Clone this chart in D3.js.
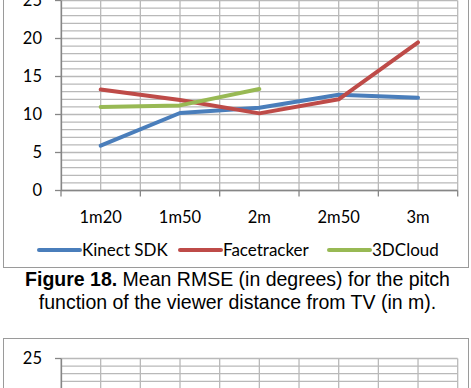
<!DOCTYPE html>
<html><head><meta charset="utf-8">
<script src="https://cdn.jsdelivr.net/npm/d3@7"></script>
<style>html,body{margin:0;padding:0;background:#fff;}svg{display:block;}</style>
</head><body>
<script>
const categories = ["1m20", "1m50", "2m", "2m50", "3m"];
const kinectSDK = [5.9, 10.2, 10.9, 12.6, 12.2];
const facetracker = [13.3, 11.9, 10.15, 12.0, 19.5];
const cloud3D = [11.0, 11.2, 13.35, null, null];
const seriesNames = ["Kinect SDK", "Facetracker", "3DCloud"];
const seriesColors = ["#4a7ebb", "#be4b48", "#98b954"];
const yTickLabels = [0, 5, 10, 15, 20, 25];
const yMinorGrid = d3.range(0, 26, 1);
const captionBold = "Figure 18.";
const captionRest = " Mean RMSE (in degrees) for the pitch";
const captionLine2 = "function of the viewer distance from TV (in m).";

const W = 471, H = 388;
const svg = d3.select("body").append("svg").attr("width", W).attr("height", H);
svg.append("rect").attr("width", W).attr("height", H).attr("fill", "#fff");

const tickFont = "Lato, 'Open Sans', sans-serif";
const gridColor = "#b9b9b9";
const axisColor = "#868686";
const PL = 61, PR = 457.7;

svg.append("rect").attr("x", 3.5).attr("y", -20).attr("width", 465).attr("height", 287.5)
  .attr("fill", "none").attr("stroke", "#9a9a9a");
svg.append("rect").attr("x", 3.5).attr("y", 338.5).attr("width", 465).attr("height", 100)
  .attr("fill", "none").attr("stroke", "#9a9a9a");

function drawChart(offsetY, drawSeries) {
  const g = svg.append("g");
  const x = d3.scaleBand().domain(categories).range([PL, PR]);
  const y = d3.scaleLinear().domain([0, 25]).range([190.5 + offsetY, 0.5 + offsetY]);
  const vpos = [];
  categories.forEach(c => { vpos.push(x(c)); vpos.push(x(c) + x.bandwidth() / 2); });
  vpos.push(PR);
  vpos.forEach(d => {
    g.append("line").attr("x1", d).attr("x2", d).attr("y1", y(25)).attr("y2", y(0))
      .attr("stroke", gridColor).attr("stroke-width", 1.3);
  });
  yMinorGrid.forEach(v => {
    g.append("line").attr("x1", PL).attr("x2", PR).attr("y1", y(v)).attr("y2", y(v))
      .attr("stroke", gridColor).attr("stroke-width", 1.3);
  });
  g.append("line").attr("x1", 61.5).attr("x2", 61.5).attr("y1", y(25)).attr("y2", y(0))
    .attr("stroke", axisColor).attr("stroke-width", 1.3);
  g.append("line").attr("x1", PL).attr("x2", PR).attr("y1", y(0)).attr("y2", y(0))
    .attr("stroke", axisColor).attr("stroke-width", 1.3);
  const bounds = categories.map(c => x(c)).concat([PR]);
  bounds.forEach(d => {
    g.append("line").attr("x1", d).attr("x2", d).attr("y1", y(0)).attr("y2", y(0) + 6)
      .attr("stroke", axisColor).attr("stroke-width", 1.3);
  });
  yTickLabels.forEach(d => {
    g.append("line").attr("x1", 55).attr("x2", 61).attr("y1", y(d)).attr("y2", y(d))
      .attr("stroke", axisColor).attr("stroke-width", 1.3);
    g.append("text").attr("x", 42).attr("y", y(d)).attr("dy", "0.36em")
      .attr("text-anchor", "end").attr("font-family", tickFont).attr("font-size", 16.5)
      .attr("fill", "#000").text(d);
  });
  if (!drawSeries) return;
  categories.forEach(d => {
    g.append("text").attr("x", x(d) + x.bandwidth() / 2).attr("y", y(0) + 32)
      .attr("text-anchor", "middle").attr("font-family", tickFont).attr("font-size", 16.5)
      .attr("fill", "#000").text(d);
  });
  const allSeries = [kinectSDK, facetracker, cloud3D];
  const line = d3.line().defined(d => d.v != null).x(d => x(d.c) + x.bandwidth() / 2).y(d => y(d.v));
  allSeries.forEach((vals, i) => {
    g.append("path").datum(categories.map((c, k) => ({ c, v: vals[k] })))
      .attr("d", line).attr("fill", "none").attr("stroke", seriesColors[i])
      .attr("stroke-width", 4).attr("stroke-linejoin", "round").attr("stroke-linecap", "round");
  });
  const legendX = [39, 180, 329];
  seriesNames.forEach((n, i) => {
    g.append("line").attr("x1", legendX[i]).attr("x2", legendX[i] + 41)
      .attr("y1", y(0) + 59.5).attr("y2", y(0) + 59.5)
      .attr("stroke", seriesColors[i]).attr("stroke-width", 4).attr("stroke-linecap", "round");
    g.append("text").attr("x", legendX[i] + 43).attr("y", y(0) + 65.5)
      .attr("font-family", tickFont).attr("font-size", 17).attr("fill", "#000").text(n);
  });
}

drawChart(0, true);
drawChart(358, false);

const cap = svg.append("text").attr("x", 237.5).attr("y", 286).attr("text-anchor", "middle")
  .attr("font-family", "'Liberation Sans', Arial, sans-serif").attr("font-size", 19.5).attr("fill", "#000");
cap.append("tspan").attr("font-weight", "bold").text(captionBold);
cap.append("tspan").text(captionRest);
svg.append("text").attr("x", 237.5).attr("y", 309).attr("text-anchor", "middle")
  .attr("font-family", "'Liberation Sans', Arial, sans-serif").attr("font-size", 19.5).attr("fill", "#000")
  .text(captionLine2);
</script>
</body></html>
